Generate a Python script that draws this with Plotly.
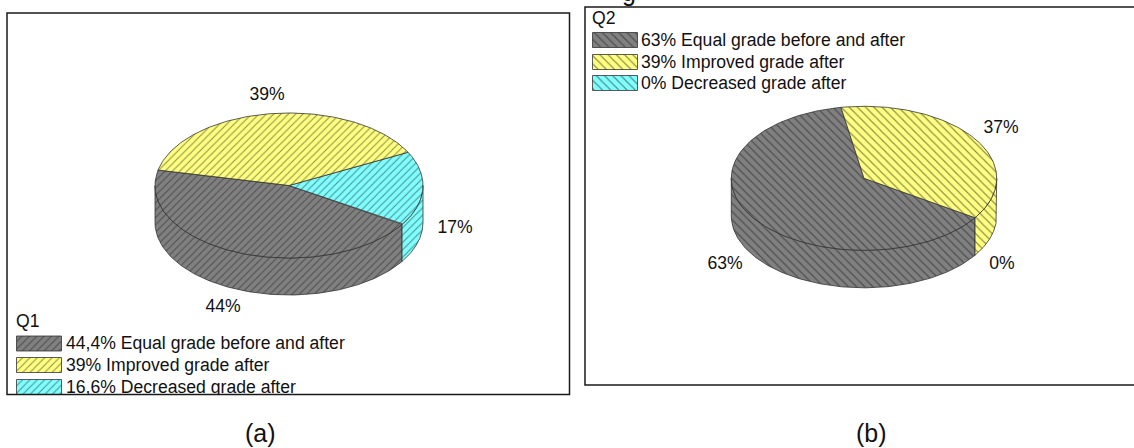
import numpy as np
import plotly.graph_objects as go

W, H = 1134, 448

# ---- data -------------------------------------------------------------
categories = ["Equal grade before and after", "Improved grade after", "Decreased grade after"]
q1_values = [44.4, 39.0, 16.6]
q2_values = [63.0, 37.0, 0.0]
q1_legend = ["44,4% Equal grade before and after", "39% Improved grade after", "16,6% Decreased grade after"]
q2_legend = ["63% Equal grade before and after", "39% Improved grade after", "0% Decreased grade after"]
q1_labels = ["44%", "39%", "17%"]
q2_labels = ["63%", "37%", "0%"]
# order round the pie, counter-clockwise, starting from the grey slice
q1_order = [0, 2, 1]
q2_order = [0, 2, 1]

# ---- style / layout ----------------------------------------------------
colors = ["#808080", "#FFFF80", "#80FFFF"]
EDGE = "#333333"
FONT = "Liberation Sans, Arial, sans-serif"
TXT = "#111111"
FS = 17.6
HATCH_SIZE = {"/": 5.2, "\\": 5.8}

fig = go.Figure()


def pattern(color, shape):
    return dict(shape=shape, bgcolor=color, fgcolor="#1a1a1a", size=HATCH_SIZE[shape], solidity=0.2)


def poly(xs, ys, color, shape, ax):
    fig.add_trace(go.Scatter(x=xs, y=ys, mode="lines", fill="toself", fillcolor=color,
                             fillpattern=pattern(color, shape),
                             line=dict(color=EDGE, width=0.8), hoverinfo="skip",
                             showlegend=False, xaxis=ax[0], yaxis=ax[1]))


def pie3d(values, order, start, cx, cy, a, b, depth, shape, ax):
    tops, walls = [], []
    t0 = start
    for i in order:
        t1 = t0 + 360 * values[i] / sum(values)
        if t1 > t0:
            t = np.radians(np.linspace(t0, t1, 120))
            tops.append((i, cx + a * np.cos(t), cy - b * np.sin(t)))
            # visible wall = the part of the arc whose sine is negative
            for lo, hi in ((180, 360), (540, 720)):
                s0, s1 = max(t0, lo), min(t1, hi)
                if s1 > s0:
                    w = np.radians(np.linspace(s0, s1, 120))
                    wx = cx + a * np.cos(w)
                    wy = cy - b * np.sin(w)
                    walls.append((i, np.r_[wx, wx[::-1], wx[0]],
                                  np.r_[wy, wy[::-1] + depth, wy[0]]))
        t0 = t1
    for i, x, y in walls:
        poly(x, y, colors[i], shape, ax)
    for i, x, y in tops:
        poly(np.r_[cx, x, cx], np.r_[cy, y, cy], colors[i], shape, ax)


def texts(xs, ys, labels, ax, pos):
    fig.add_trace(go.Scatter(x=xs, y=ys, text=labels, mode="text", textposition=pos,
                             textfont=dict(family=FONT, size=FS, color=TXT), hoverinfo="skip",
                             showlegend=False, xaxis=ax[0], yaxis=ax[1]))


def legend(x, gap, title, title_y, rows_y, sw_h, labels, shape, ax):
    texts([x - 0.5], [title_y + 1.5], [title], ax, "middle right")
    for c, y in zip(colors, rows_y):
        xs = [x, x + 45, x + 45, x, x]
        ys = [y - sw_h / 2, y - sw_h / 2, y + sw_h / 2, y + sw_h / 2, y - sw_h / 2]
        poly(xs, ys, c, shape, ax)
    texts([x + gap] * 3, [y + 1.5 for y in rows_y], labels, ax, "middle right")


AX1, AX2 = ("x", "y"), ("x2", "y2")
pie3d(q1_values, q1_order, 167.7, 289, 185.5, 134, 72.5, 37, "/", AX1)
pie3d(q2_values, q2_order, 100.0, 864, 178.3, 132.7, 72, 37.5, "\\", AX2)
texts([223, 267, 455], [307.5, 95.5, 228.5], q1_labels, AX1, "middle center")
texts([725, 1001, 1002], [264.5, 128.5, 264.5], q2_labels, AX2, "middle center")
legend(16.5, 49.5, "Q1", 321, [343.5, 365, 387], 15, q1_legend, "/", AX1)
legend(592.5, 48.5, "Q2", 18, [40, 62, 83], 15, q2_legend, "\\", AX2)


def px(v):
    return v / W


def py(v):
    return 1 - v / H


frame = dict(type="rect", xref="paper", yref="paper", line=dict(color="#1a1a1a", width=1.5),
             fillcolor="rgba(0,0,0,0)", layer="above")
axis = dict(visible=False, showgrid=False, zeroline=False, fixedrange=True)
caption = dict(xref="paper", yref="paper", showarrow=False, xanchor="center", yanchor="middle",
               font=dict(family=FONT, size=25, color=TXT))
fig.update_layout(
    width=W, height=H, autosize=False, margin=dict(l=0, r=0, t=0, b=0),
    paper_bgcolor="white", plot_bgcolor="white", showlegend=False,
    xaxis=dict(domain=[px(7), px(569.5)], range=[7, 569.5], **axis),
    yaxis=dict(domain=[py(394.5), py(13)], range=[394.5, 13], **axis),
    xaxis2=dict(domain=[px(585), 1], range=[585, 1134], **axis),
    yaxis2=dict(domain=[py(385), py(7)], range=[385, 7], **axis),
    shapes=[
        dict(frame, x0=px(7), x1=px(569.5), y0=py(394.5), y1=py(13)),
        dict(frame, x0=px(585), x1=1.02, y0=py(385), y1=py(7)),
    ],
    annotations=[
        dict(caption, text="(a)", x=px(260), y=py(433)),
        dict(caption, text="(b)", x=px(871), y=py(433)),
        dict(caption, text="g", x=px(629), y=py(-8)),
    ],
)
fig.write_html("out.html", config=dict(displayModeBar=False),
               post_script="document.body.style.margin='0';document.documentElement.style.overflow='hidden';")
